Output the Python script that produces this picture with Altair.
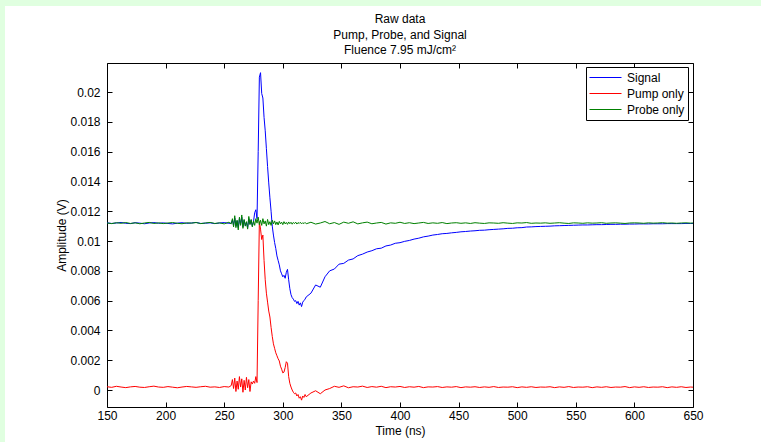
import altair as alt
import pandas as pd

# ---- sampling grid (ns) ----
t_early = list(range(150, 255, 4))          # 150..254
t_event = list(range(256, 321))             # 256..320
t_late = list(range(324, 649, 4)) + [650]   # 324..650
time_ns = t_early + t_event + t_late

series_names = ["Signal", "Pump only", "Probe only"]
series_colors = ["#0000ff", "#ff0000", "#008000"]

# ---- Signal (blue) ----
signal_early = [0.01122, 0.01118, 0.01121, 0.01125, 0.01119, 0.01117, 0.01123, 0.01120, 0.01116, 0.01121,
                0.01124, 0.01119, 0.01122, 0.01118, 0.01115, 0.01120, 0.01123, 0.01119, 0.01121, 0.01125,
                0.01118, 0.01120, 0.01122, 0.01117, 0.01121, 0.01124, 0.01119]
signal_event = [0.01120, 0.01140, 0.01105, 0.01155, 0.01100, 0.01135, 0.01090, 0.01150, 0.01110, 0.01160,
                0.01095, 0.01140, 0.01105, 0.01125, 0.01090, 0.01150, 0.01115, 0.01140, 0.01100, 0.01130,
                0.01190, 0.01210, 0.01150, 0.01600, 0.02100, 0.02130, 0.01990, 0.01960, 0.01830, 0.01740,
                0.01620, 0.01500, 0.01390, 0.01290, 0.01200, 0.01100, 0.01040, 0.00990, 0.00950, 0.00900,
                0.00870, 0.00840, 0.00800, 0.00780, 0.00760, 0.00770, 0.00750, 0.00790, 0.00810, 0.00740,
                0.00680, 0.00640, 0.00620, 0.00610, 0.00595, 0.00600, 0.00580, 0.00595, 0.00570, 0.00585,
                0.00560, 0.00590, 0.00600, 0.00610, 0.00625]
signal_late = [0.00650, 0.00705, 0.00690, 0.00760, 0.00800, 0.00812, 0.00845, 0.00850, 0.00872, 0.00880,
               0.00902, 0.00912, 0.00926, 0.00935, 0.00948, 0.00952, 0.00967, 0.00973, 0.00985, 0.00989,
               0.00998, 0.01004, 0.01013, 0.01019, 0.01028, 0.01033, 0.01040, 0.01044, 0.01049, 0.01051,
               0.01055, 0.01058, 0.01062, 0.01064, 0.01067, 0.01069, 0.01072, 0.01073, 0.01076, 0.01078,
               0.01080, 0.01082, 0.01085, 0.01086, 0.01089, 0.01090, 0.01094, 0.01095, 0.01097, 0.01098,
               0.01099, 0.01100, 0.01102, 0.01103, 0.01104, 0.01105, 0.01106, 0.01107, 0.01108, 0.01108,
               0.01109, 0.01110, 0.01110, 0.01111, 0.01112, 0.01112, 0.01113, 0.01113, 0.01114, 0.01114,
               0.01115, 0.01115, 0.01115, 0.01116, 0.01116, 0.01116, 0.01117, 0.01117, 0.01117, 0.01117,
               0.01118, 0.01118, 0.01118]

# ---- Pump only (red) ----
pump_early = [0.00022, 0.00018, 0.00025, 0.00020, 0.00016, 0.00021, 0.00024, 0.00019, 0.00017, 0.00022,
              0.00026, 0.00020, 0.00018, 0.00023, 0.00019, 0.00015, 0.00020, 0.00024, 0.00021, 0.00018,
              0.00022, 0.00025, 0.00019, 0.00021, 0.00017, 0.00023, 0.00020]
pump_event = [0.00030, 0.00070, 0.00010, 0.00080, -0.00010, 0.00060, 0.00005, 0.00090, 0.00020, 0.00075,
              -0.00015, 0.00065, 0.00000, 0.00085, 0.00015, 0.00070, -0.00010, 0.00055, 0.00040, 0.00060,
              0.00045, 0.00090, 0.00050, 0.00600, 0.01130, 0.01080, 0.01010, 0.01040, 0.00870, 0.00740,
              0.00650, 0.00590, 0.00530, 0.00490, 0.00420, 0.00360, 0.00310, 0.00280, 0.00250, 0.00230,
              0.00210, 0.00195, 0.00160, 0.00140, 0.00115, 0.00120, 0.00150, 0.00190, 0.00180, 0.00090,
              0.00045, 0.00020, 0.00000, -0.00015, -0.00025, -0.00020, -0.00040, -0.00030, -0.00055, -0.00045,
              -0.00068, -0.00040, -0.00050, -0.00030, -0.00045]
pump_late = [-0.00020, -0.00005, -0.00025, 0.00000, 0.00010, 0.00025, 0.00018, 0.00028, 0.00015, 0.00022,
             0.00020, 0.00026, 0.00017, 0.00023, 0.00019, 0.00025, 0.00016, 0.00022, 0.00020, 0.00024,
             0.00017, 0.00022, 0.00019, 0.00024, 0.00016, 0.00021, 0.00020, 0.00023, 0.00017, 0.00021,
             0.00019, 0.00023, 0.00016, 0.00021, 0.00019, 0.00022, 0.00017, 0.00021, 0.00018, 0.00023,
             0.00017, 0.00020, 0.00019, 0.00022, 0.00016, 0.00021, 0.00018, 0.00022, 0.00017, 0.00020,
             0.00019, 0.00022, 0.00016, 0.00021, 0.00018, 0.00023, 0.00017, 0.00020, 0.00019, 0.00022,
             0.00016, 0.00021, 0.00018, 0.00022, 0.00017, 0.00020, 0.00019, 0.00023, 0.00016, 0.00021,
             0.00018, 0.00022, 0.00017, 0.00020, 0.00019, 0.00022, 0.00016, 0.00021, 0.00018, 0.00022,
             0.00017, 0.00020, 0.00019]

# ---- Probe only (green) ----
probe_early = [0.01121, 0.01117, 0.01123, 0.01119, 0.01124, 0.01118, 0.01122, 0.01116, 0.01121, 0.01125,
               0.01118, 0.01122, 0.01117, 0.01121, 0.01124, 0.01119, 0.01116, 0.01122, 0.01120, 0.01124,
               0.01117, 0.01121, 0.01125, 0.01118, 0.01122, 0.01115, 0.01126]
probe_event = [0.01115, 0.01150, 0.01095, 0.01170, 0.01090, 0.01140, 0.01075, 0.01160, 0.01105, 0.01175,
               0.01085, 0.01145, 0.01100, 0.01130, 0.01080, 0.01165, 0.01110, 0.01145, 0.01095, 0.01135,
               0.01105, 0.01150, 0.01120, 0.01160, 0.01110, 0.01140, 0.01105, 0.01150, 0.01115, 0.01135,
               0.01100, 0.01145, 0.01110, 0.01130, 0.01105, 0.01140, 0.01115, 0.01135, 0.01110, 0.01128,
               0.01108, 0.01132, 0.01115, 0.01127, 0.01110, 0.01130, 0.01115, 0.01125, 0.01112, 0.01128,
               0.01116, 0.01126, 0.01113, 0.01125, 0.01117, 0.01127, 0.01114, 0.01124, 0.01118, 0.01126,
               0.01115, 0.01123, 0.01117, 0.01125, 0.01116]
probe_late = [0.01126, 0.01114, 0.01121, 0.01131, 0.01116, 0.01124, 0.01112, 0.01127, 0.01119, 0.01129,
              0.01115, 0.01122, 0.01127, 0.01116, 0.01121, 0.01125, 0.01114, 0.01122, 0.01119, 0.01126,
              0.01118, 0.01123, 0.01117, 0.01121, 0.01125, 0.01118, 0.01122, 0.01119, 0.01124, 0.01117,
              0.01121, 0.01123, 0.01119, 0.01122, 0.01118, 0.01123, 0.01120, 0.01118, 0.01122, 0.01121,
              0.01119, 0.01123, 0.01120, 0.01118, 0.01122, 0.01121, 0.01124, 0.01119, 0.01121, 0.01120,
              0.01122, 0.01119, 0.01121, 0.01123, 0.01120, 0.01118, 0.01122, 0.01121, 0.01119, 0.01122,
              0.01120, 0.01121, 0.01123, 0.01119, 0.01121, 0.01122, 0.01120, 0.01118, 0.01121, 0.01122,
              0.01121, 0.01119, 0.01122, 0.01120, 0.01121, 0.01123, 0.01120, 0.01121, 0.01119, 0.01121,
              0.01122, 0.01120, 0.01121]

x_ticks = [150, 200, 250, 300, 350, 400, 450, 500, 550, 600, 650]
y_ticks = [0, 0.002, 0.004, 0.006, 0.008, 0.01, 0.012, 0.014, 0.016, 0.018, 0.02]

series_values = {
    "Signal": signal_early + signal_event + signal_late,
    "Pump only": pump_early + pump_event + pump_late,
    "Probe only": probe_early + probe_event + probe_late,
}

rows = []
for name in series_names:
    vals = series_values[name]
    n = min(len(vals), len(time_ns))
    for i in range(n):
        rows.append({"time": time_ns[i], "amp": vals[i], "series": name})
df = pd.DataFrame(rows)

FONT = "Liberation Sans"
W, H = 586, 344
PAD_L, PAD_T, PAD_R, PAD_B = 107, 63, 68, 35
GREEN_BG = "#e0ffe0"

x_scale = alt.Scale(domain=[150, 650], nice=False, zero=False)
y_scale = alt.Scale(domain=[-0.00114, 0.02195], nice=False, zero=False)

common_axis = dict(domain=False, grid=False, tickColor="black", tickSize=5, tickWidth=1,
                   offset=-5, labelFlush=False, labelFont=FONT, labelFontSize=12, labelColor="black",
                   titleFont=FONT, titleFontSize=12, titleFontWeight="normal", titleColor="black")

lines = alt.Chart(df).mark_line(strokeWidth=1).encode(
    x=alt.X("time:Q", scale=x_scale,
            axis=alt.Axis(orient="bottom", values=x_ticks, format="d", labelPadding=3,
                          title="Time (ns)", titlePadding=4, **common_axis)),
    y=alt.Y("amp:Q", scale=y_scale,
            axis=alt.Axis(orient="left", values=y_ticks, format="~g", labelPadding=7,
                          title="Amplitude (V)", titlePadding=1, **common_axis)),
    color=alt.Color("series:N", sort=series_names,
                    scale=alt.Scale(domain=series_names, range=series_colors),
                    legend=alt.Legend(title=None, orient="none", legendX=479, legendY=4,
                                      direction="vertical", strokeColor="black", fillColor="white",
                                      padding=3, cornerRadius=0, labelFont=FONT, labelFontSize=12,
                                      labelColor="black", symbolType="stroke", symbolSize=1024,
                                      symbolStrokeWidth=1, clipHeight=15, rowPadding=1,
                                      labelOffset=5)),
)

ticks_tr = alt.Chart(df).mark_line(opacity=0).encode(
    x=alt.X("time:Q", scale=x_scale,
            axis=alt.Axis(orient="top", values=x_ticks, labels=False, title=None, **common_axis)),
    y=alt.Y("amp:Q", scale=y_scale,
            axis=alt.Axis(orient="right", values=y_ticks, labels=False, title=None, **common_axis)),
)

strip_left = alt.Chart(df).mark_rect(color=GREEN_BG).encode(
    x=alt.value(-PAD_L), x2=alt.value(-PAD_L + 5),
    y=alt.value(-PAD_T), y2=alt.value(H + PAD_B))
strip_top = alt.Chart(df).mark_rect(color=GREEN_BG).encode(
    x=alt.value(-PAD_L), x2=alt.value(W + PAD_R),
    y=alt.value(-PAD_T), y2=alt.value(-PAD_T + 6))

chart = alt.layer(strip_left, strip_top, lines, ticks_tr).resolve_axis(
    x="independent", y="independent"
).properties(
    width=W, height=H,
    padding={"left": PAD_L, "top": PAD_T, "right": PAD_R, "bottom": PAD_B},
    autosize=alt.AutoSizeParams(type="none"),
    background="white",
    title=alt.TitleParams(text=["Raw data", "Pump, Probe, and Signal", "Fluence 7.95 mJ/cm²"],
                          font=FONT, fontSize=12, fontWeight="normal", color="black",
                          anchor="middle", lineHeight=15.5, offset=0, dy=57),
).configure_view(stroke="black", strokeWidth=1)

chart.save("out.html", embed_options={"renderer": "svg", "actions": False})
